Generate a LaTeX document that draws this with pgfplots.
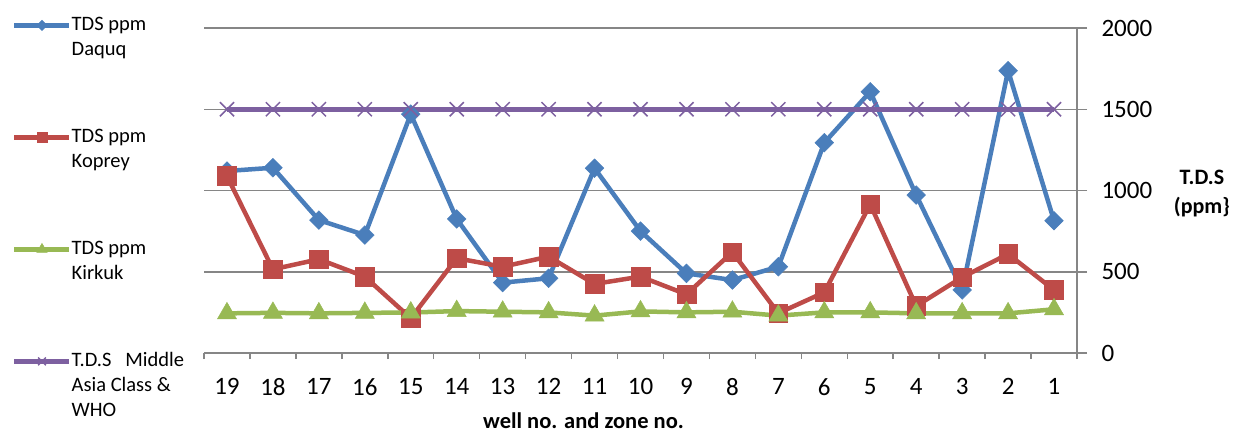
\documentclass[border=0pt]{standalone}
\usepackage{fontspec}
\setmainfont{Carlito}
\usepackage{pgfplots}
\pgfplotsset{compat=1.18}
\definecolor{cblue}{RGB}{74,126,187}
\definecolor{cred}{RGB}{190,75,72}
\definecolor{cgreen}{RGB}{152,185,84}
\definecolor{cpurple}{RGB}{125,96,160}
\definecolor{gridgray}{RGB}{134,134,134}
\begin{document}
\begin{tikzpicture}
\path[use as bounding box] (0,0) rectangle (1241pt,432pt);
\begin{axis}[
  at={(204pt,79pt)}, anchor=south west,
  scale only axis, width=873pt, height=325pt,
  xmin=-0.5, xmax=18.5, ymin=0, ymax=2000,
  axis x line=bottom, axis y line=right,
  axis line style={-, draw=gridgray, line width=1.5pt},
  xtick={0,...,18},
  xticklabels={19,18,17,16,15,14,13,12,11,10,9,8,7,6,5,4,3,2,1},
  minor xtick={-0.5,0.5,...,18.5},
  major x tick style={draw=none},
  minor x tick style={draw=gridgray, line width=1.5pt},
  minor tick length=6pt,
  ytick={0,500,...,2000},
  y tick style={draw=gridgray, line width=1.5pt},
  major tick length=10pt,
  tick align=outside,
  ymajorgrids, grid style={draw=gridgray, line width=1.5pt},
  /pgf/number format/assume math mode=true,
  /pgf/number format/1000 sep={},
  tick label style={font=\fontsize{25}{29}\selectfont, text=black},
  xticklabel style={yshift=-12pt},
  yticklabel style={anchor=west, xshift=11pt},
  clip=false,
  legend style={at={(-0.2199,1.0455)}, anchor=north west, draw=none, fill=none,
    inner sep=0pt, row sep=0pt, column sep=0pt,
    font=\fontsize{20.5}{25}\selectfont,
    nodes={inner sep=0pt, text depth=, text height=},
    cells={anchor=base west}},
  legend image code/.code={
    \draw[#1] (0pt,5.5pt) -- (55pt,5.5pt);
    \draw[#1,/tikz/every mark/.append style={scale=0.55}] plot coordinates {(27.5pt,5.5pt)};
  },
  extra description/.code={
    \node[font=\bfseries\fontsize{22}{29}\selectfont, align=center, anchor=center] at (1.143,0.492) {T.D.S\\(ppm\}};
    \node[font=\bfseries\fontsize{22.5}{26}\selectfont, anchor=center] at (0.4347,-0.207) {well no. and zone no.};
  },
]
\addplot[cblue, line width=4.5pt, mark=square*, mark size=6.6pt,
  mark options={rotate=45, solid, fill=cblue, draw=cblue, line width=0.5pt}]
  coordinates {(0,1120)(1,1140)(2,818)(3,726)(4,1470)(5,825)(6,433)(7,460)(8,1137)(9,750)
  (10,490)(11,449)(12,531)(13,1294)(14,1608)(15,972)(16,388)(17,1737)(18,814)};
\addlegendentry{\parbox[t][112pt][t]{135pt}{\strut TDS ppm\\Daquq}}
\addplot[cred, line width=4.5pt, mark=square*, mark size=9.3pt,
  mark options={solid, fill=cred, draw=cred, line width=0.5pt}]
  coordinates {(0,1089)(1,515)(2,577)(3,470)(4,214)(5,583)(6,531)(7,593)(8,425)(9,470)
  (10,361)(11,621)(12,245)(13,373)(14,915)(15,289)(16,466)(17,609)(18,388)};
\addlegendentry{\parbox[t][112pt][t]{135pt}{\strut TDS ppm\\Koprey}}
\addplot[cgreen, line width=4.5pt, mark=triangle*, mark size=11pt,
  mark options={solid, fill=cgreen, draw=cgreen, line width=0.5pt}]
  coordinates {(0,244)(1,247)(2,244)(3,247)(4,249)(5,258)(6,254)(7,250)(8,230)(9,256)
  (10,250)(11,254)(12,230)(13,250)(14,250)(15,244)(16,244)(17,244)(18,269)};
\addlegendentry{\parbox[t][112pt][t]{135pt}{\strut TDS ppm\\Kirkuk}}
\addplot[cpurple, line width=4.5pt, mark=x, mark size=10pt,
  mark options={solid, draw=cpurple, line width=1.5pt}]
  coordinates {(0,1500)(1,1500)(2,1500)(3,1500)(4,1500)(5,1500)(6,1500)(7,1500)(8,1500)(9,1500)
  (10,1500)(11,1500)(12,1500)(13,1500)(14,1500)(15,1500)(16,1500)(17,1500)(18,1500)};
\addlegendentry{\parbox[t]{135pt}{\strut T.D.S\ \ \ Middle\\Asia Class \&\\WHO}}
\end{axis}
\end{tikzpicture}
\end{document}
